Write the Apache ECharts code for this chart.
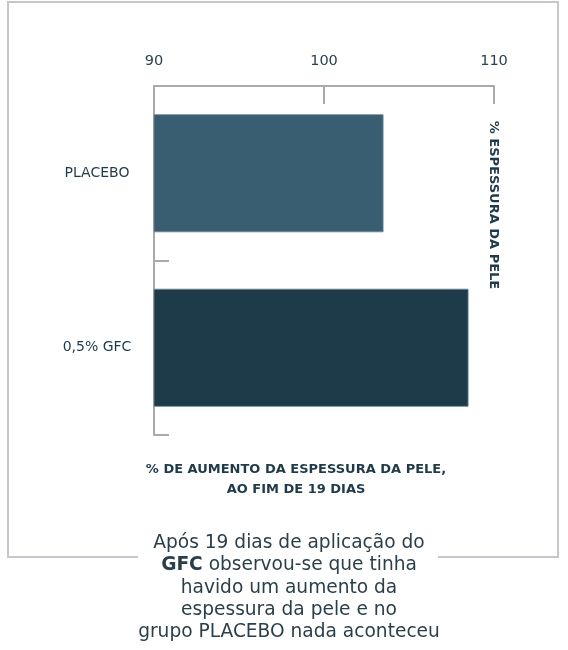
<!DOCTYPE html>
<html>
<head>
<meta charset="utf-8">
<script src="https://cdn.jsdelivr.net/npm/echarts@6/dist/echarts.min.js"></script>
<style>
html,body{margin:0;padding:0;background:#fff;}
#c{width:568px;height:650px;}
</style>
</head>
<body>
<div id="c"></div>
<script>
var categories = ['PLACEBO', '0,5% GFC'];
var values = [103.5, 108.5];
var barColors = ['#3a5e71', '#1e3b49'];
var axisMin = 90, axisMax = 110, axisInterval = 10;
var sideLabel = '% ESPESSURA DA PELE';
var bottomTitle = '% DE AUMENTO DA ESPESSURA DA PELE,\nAO FIM DE 19 DIAS';
var captionLines = [
  'Após 19 dias de aplicação do',
  '{b|GFC} observou-se que tinha',
  'havido um aumento da',
  'espessura da pele e no',
  'grupo PLACEBO nada aconteceu'
];

var FONT = 'DejaVu Sans';
var dark = '#1f3a48';
var gray = '#a9a9ae';

var chart = echarts.init(document.getElementById('c'), null, {renderer: 'canvas'});
chart.setOption({
  animation: false,
  backgroundColor: '#fff',
  grid: {left: 154, right: 74, top: 86, bottom: 215, containLabel: false},
  xAxis: {
    type: 'value', position: 'top', min: axisMin, max: axisMax, interval: axisInterval,
    axisLine: {show: true, lineStyle: {color: gray, width: 2}},
    axisTick: {show: true, inside: true, length: 18, lineStyle: {color: gray, width: 2}},
    splitLine: {show: false},
    axisLabel: {color: '#2b4350', fontSize: 14.5, fontFamily: FONT, margin: 17}
  },
  yAxis: {
    type: 'category', inverse: true, data: categories,
    axisLine: {show: true, lineStyle: {color: gray, width: 2}},
    axisTick: {show: true, inside: true, length: 15, lineStyle: {color: gray, width: 2}},
    axisLabel: {color: dark, fontSize: 14, fontFamily: FONT, margin: 57, align: 'center'}
  },
  series: [{
    type: 'bar', barWidth: 118,
    data: values.map(function (v, i) {
      return {value: v, itemStyle: {color: barColors[i], borderColor: '#6d8795', borderWidth: 0.8}};
    })
  }],
  graphic: [
    {type: 'rect', z: 0, silent: true, shape: {x: 8, y: 2, width: 550, height: 555},
     style: {fill: 'none', stroke: '#c6c6cc', lineWidth: 2}},
    {type: 'rect', z: 1, silent: true, shape: {x: 138, y: 530, width: 300, height: 120},
     style: {fill: '#fff'}},
    {type: 'text', z: 5, x: 493, y: 205, rotation: -Math.PI / 2,
     style: {text: sideLabel, fill: dark, font: 'bold 13px ' + FONT, textAlign: 'center', textVerticalAlign: 'middle'}},
    {type: 'text', z: 5, x: 296, y: 460,
     style: {text: bottomTitle, fill: dark, font: 'bold 13px ' + FONT, textAlign: 'center', lineHeight: 20}},
    {type: 'text', z: 5, x: 289, y: 532,
     style: {text: captionLines.join('\n'), fill: '#2b3f4a', font: '18.6px ' + FONT, fontFamily: FONT, fontSize: 18.6,
       textAlign: 'center', lineHeight: 22.3,
       rich: {b: {fontWeight: 'bold', fontFamily: FONT, fontSize: 18.6, fill: '#2b3f4a', lineHeight: 22.3}}}}
  ]
});
</script>
</body>
</html>
